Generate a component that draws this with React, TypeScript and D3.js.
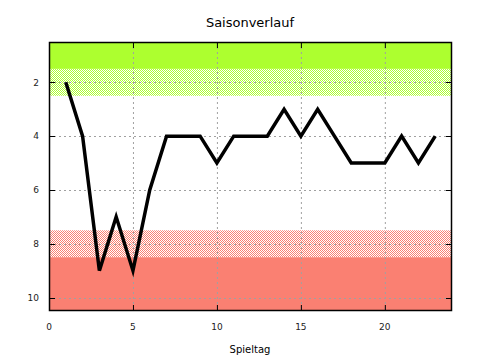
import React from 'react'
import * as d3 from 'd3';

const spieltage = d3.range(1, 24);
const platz = [2, 4, 9, 7, 9, 6, 4, 4, 4, 5, 4, 4, 4, 3, 4, 3, 4, 5, 5, 5, 4, 5, 4];
const xTicks = [0, 5, 10, 15, 20];
const yTicks = [2, 4, 6, 8, 10];
// zones: [from, to, color, hatched]
const zonen: [number, number, string, boolean][] = [
    [0.5, 1.5, '#adff2f', false],
    [1.5, 2.5, '#adff2f', true],
    [7.5, 8.5, '#fa8072', true],
    [8.5, 10.5, '#fa8072', false],
];

const App = () => {
    const width = 480, height = 360;
    const left = 49, right = 452, top = 42, bottom = 311;

    const x = d3.scaleLinear().domain([0, 24]).range([left, right]);
    const y = d3.scaleLinear().domain([0.5, 10.5]).range([top, bottom]);

    const line = d3.line<number>()
        .x((d, i) => x(spieltage[i]))
        .y(d => y(d));

    const font = 'DejaVu Sans, sans-serif';

    return (
        <div style={{ position: 'absolute', left: 0, top: 0 }}>
            <svg width={width} height={height} style={{ display: 'block', background: '#fff' }}>
                <defs>
                    {['#adff2f', '#fa8072'].map((c, i) => (
                        <pattern key={i} id={'hatch' + i} width={2} height={2} patternUnits="userSpaceOnUse">
                            <rect width={2} height={2} fill="#fff" />
                            <rect width={1} height={1} fill={c} />
                            <rect x={1} y={1} width={1} height={1} fill={c} />
                        </pattern>
                    ))}
                </defs>

                {zonen.map((z, i) => (
                    <rect key={i} x={left} y={y(z[0])} width={right - left} height={y(z[1]) - y(z[0])}
                        fill={z[3] ? `url(#hatch${z[2] === '#adff2f' ? 0 : 1})` : z[2]} />
                ))}

                {/* grid */}
                {xTicks.filter(t => t > 0).map(t => (
                    <line key={'gx' + t} x1={x(t) + 0.5} x2={x(t) + 0.5} y1={top} y2={bottom}
                        stroke="#a0a0a0" strokeDasharray="2,3" />
                ))}
                {yTicks.map(t => (
                    <line key={'gy' + t} x1={left} x2={right} y1={Math.round(y(t)) + 0.5} y2={Math.round(y(t)) + 0.5}
                        stroke="#a0a0a0" strokeDasharray="2,3" />
                ))}

                {/* ticks */}
                {yTicks.map(t => (
                    <g key={'ty' + t}>
                        <line x1={left} x2={left + 6} y1={Math.round(y(t)) + 0.5} y2={Math.round(y(t)) + 0.5} stroke="#000" />
                        <line x1={right - 6} x2={right} y1={Math.round(y(t)) + 0.5} y2={Math.round(y(t)) + 0.5} stroke="#000" />
                        <text x={left - 10} y={y(t)} dy="0.35em" textAnchor="end" fontSize={9} fontFamily={font} fill="#222">{t}</text>
                    </g>
                ))}
                {xTicks.map(t => (
                    <g key={'tx' + t}>
                        <line x1={x(t) + 0.5} x2={x(t) + 0.5} y1={bottom - 6} y2={bottom} stroke="#000" />
                        <line x1={x(t) + 0.5} x2={x(t) + 0.5} y1={top} y2={top + 6} stroke="#000" />
                        <text x={x(t)} y={bottom + 19} textAnchor="middle" fontSize={9} fontFamily={font} fill="#222">{t}</text>
                    </g>
                ))}

                <path d={line(platz) || ''} fill="none" stroke="#000" strokeWidth={3.5} strokeLinejoin="miter" />

                <rect x={left + 0.5} y={top + 0.5} width={right - left - 1} height={bottom - top - 1}
                    fill="none" stroke="#000" strokeWidth={1.5} />

                <text x={250} y={27} textAnchor="middle" fontSize={13} fontFamily={font} fill="#000">Saisonverlauf</text>
                <text x={250} y={353} textAnchor="middle" fontSize={10} fontFamily={font} fill="#000">Spieltag</text>
            </svg>
        </div>
    )
}

export default App
